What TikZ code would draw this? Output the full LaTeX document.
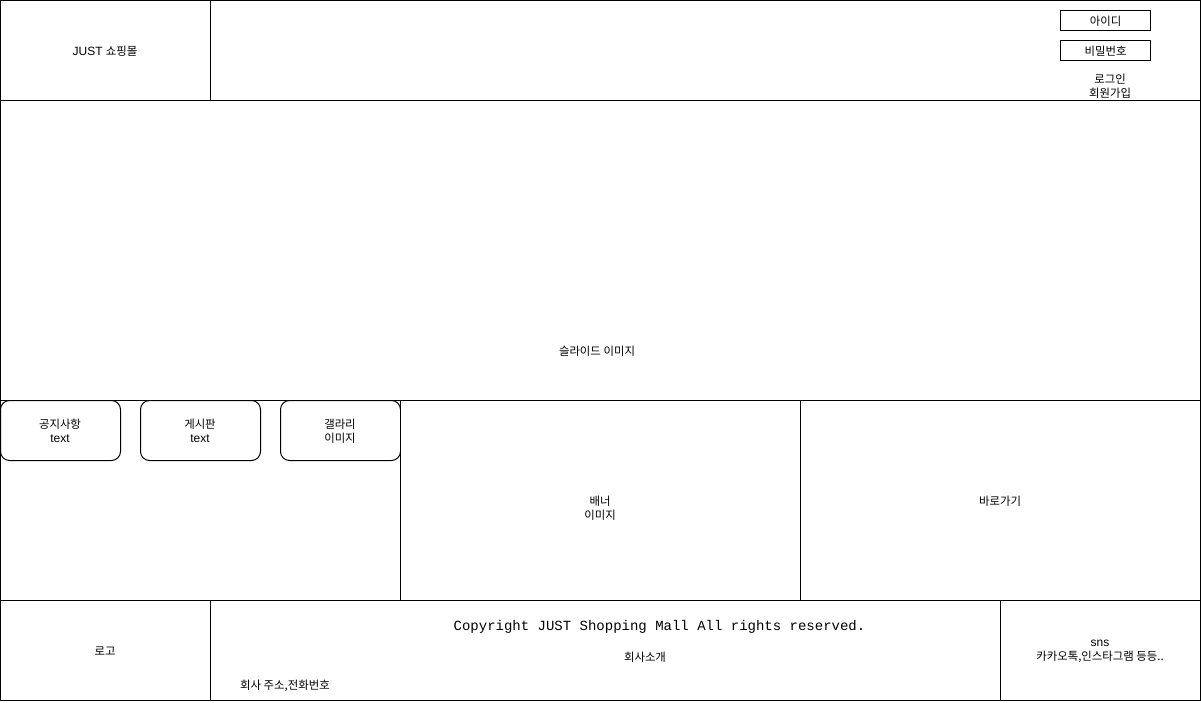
\documentclass[tikz,border=0pt]{standalone}
\usepackage{fontspec}
\setmainfont{Liberation Sans}
\newfontfamily\kr[Scale=0.95]{Noto Sans CJK KR}
\newfontfamily\monofam{Liberation Mono}
\begin{document}
\begin{tikzpicture}[x=1pt,y=-1pt,
  box/.style={draw=black,line width=1pt,fill=white,inner sep=0pt,outer sep=0pt},
  rbox/.style={box,rounded corners=9pt},
  lbl/.style={inner sep=0pt,align=center,font=\fontsize{12pt}{14pt}\selectfont}]
\useasboundingbox (0,0) rectangle (1201,702);
\fill[white] (0,0) rectangle (1201,702);
% header
\node[box,minimum width=210pt,minimum height=100pt] (logo) at (105.5,50.5) {};
\node[lbl] at (105,51) {JUST {\kr 쇼핑몰}};
\node[box,minimum width=990pt,minimum height=100pt] (top) at (705.5,50.5) {};
\node[box,minimum width=90pt,minimum height=20pt] (id) at (1105.5,20.5) {};
\node[lbl] at (1105.5,21.5) {\kr 아이디};
\node[box,minimum width=90pt,minimum height=20pt] (pw) at (1105.5,50.5) {};
\node[lbl] at (1105.5,51.5) {\kr 비밀번호};
\node[lbl] (login) at (1110,86) {\kr 로그인\\\kr 회원가입};
% slide
\node[box,minimum width=1200pt,minimum height=300pt] (slide) at (600.5,250.5) {};
\node[lbl] (slidetxt) at (597,351) {\kr 슬라이드 이미지};
% middle row
\node[box,minimum width=400pt,minimum height=200pt] (left) at (200.5,500.5) {};
\node[rbox,minimum width=120pt,minimum height=60pt] (notice) at (60.5,430.5) {};
\node[lbl] at (60,431) {\kr 공지사항\\text};
\node[rbox,minimum width=120pt,minimum height=60pt] (board) at (200.5,430.5) {};
\node[lbl] at (200,431) {\kr 게시판\\text};
\node[rbox,minimum width=120pt,minimum height=60pt] (gallery) at (340.5,430.5) {};
\node[lbl] at (340,431) {\kr 갤라리\\\kr 이미지};
\node[box,minimum width=400pt,minimum height=200pt] (banner) at (600.5,500.5) {};
\node[lbl] at (600,508) {\kr 배너\\\kr 이미지};
\node[box,minimum width=400pt,minimum height=200pt] (quick) at (1000.5,500.5) {};
\node[lbl] at (1000,501) {\kr 바로가기};
% footer
\node[box,minimum width=210pt,minimum height=100pt] (flogo) at (105.5,650.5) {};
\node[lbl] at (105,651) {\kr 로고};
\node[box,minimum width=790pt,minimum height=100pt] (finfo) at (605.5,650.5) {};
\node[inner sep=0pt,font=\monofam\fontsize{14pt}{15pt}\selectfont] (copy) at (659.5,627) {Copyright JUST Shopping Mall All rights reserved.};
\node[lbl] (about) at (645,657) {\kr 회사소개};
\node[lbl,anchor=west] (addr) at (240,686) {\kr 회사 주소,전화번호};
\node[box,minimum width=200pt,minimum height=100pt] (sns) at (1100.5,650.5) {};
\node[lbl] at (1100,651) {sns\\{\kr 카카오톡,인스타그램 등등..}};
\end{tikzpicture}
\end{document}
